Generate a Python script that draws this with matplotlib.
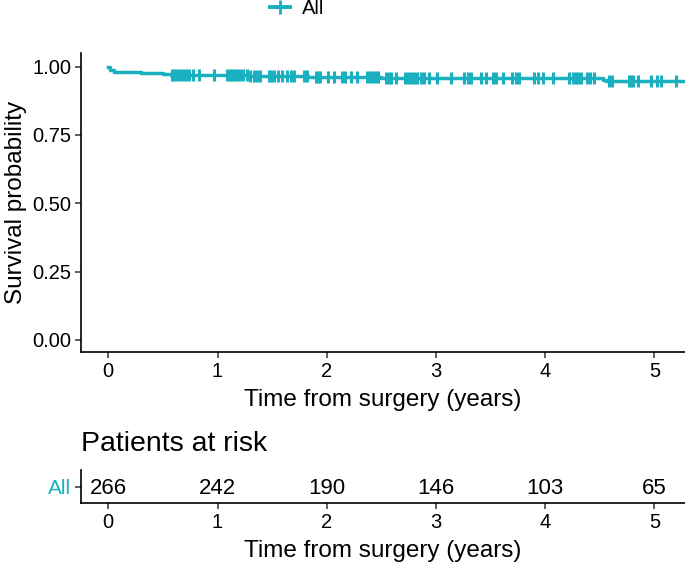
import matplotlib.pyplot as plt
from matplotlib.lines import Line2D
import numpy as np

plt.rcParams['font.family'] = ['Liberation Sans', 'DejaVu Sans']

teal = '#1AB0BF'

# Kaplan-Meier steps (time in years, survival after the step)
step_times = [0.0, 0.02, 0.05, 0.30, 0.50, 0.57, 1.30, 1.83, 2.50, 4.53, 4.56, 5.30]
step_surv = [1.0, 0.989, 0.982, 0.978, 0.974, 0.970, 0.966, 0.962, 0.958, 0.950, 0.946, 0.946]

# censoring times
censor_times = [0.58, 0.60, 0.63, 0.66, 0.68, 0.71, 0.74, 0.78, 0.83, 0.97,
                1.09, 1.11, 1.13, 1.15, 1.18, 1.21, 1.23, 1.27, 1.30, 1.33,
                1.36, 1.39, 1.47, 1.49, 1.52, 1.55, 1.59, 1.64, 1.67, 1.70,
                1.79, 1.82, 1.90, 1.92, 1.94, 2.01, 2.07, 2.14, 2.17, 2.22,
                2.28, 2.37, 2.40, 2.42, 2.45, 2.47, 2.54, 2.57, 2.59, 2.63,
                2.72, 2.74, 2.77, 2.80, 2.83, 2.86, 2.89, 2.94, 3.01, 3.14,
                3.26, 3.29, 3.32, 3.41, 3.46, 3.52, 3.55, 3.61, 3.70, 3.73,
                3.76, 3.90, 3.93, 3.98, 4.07, 4.22, 4.25, 4.28, 4.30, 4.33,
                4.38, 4.41, 4.45, 4.58, 4.61, 4.77, 4.79, 4.80, 4.85, 4.97,
                5.02, 5.06, 5.20]

risk_times = [0, 1, 2, 3, 4, 5]
risk_counts = [266, 242, 190, 146, 103, 65]


def surv_at(t):
    idx = np.searchsorted(step_times, t, side='right') - 1
    return np.array(step_surv)[idx]


fig = plt.figure(figsize=(6.85, 5.64), dpi=100)

# main survival plot
ax = fig.add_axes([81/685, 1-352/564, 604/685, 299/564])
ax.step(step_times, step_surv, where='post', color=teal, lw=2.5,
        solid_joinstyle='round')
ax.plot(censor_times, surv_at(np.array(censor_times)), ls='none', marker='|',
        ms=9, mew=2.2, color=teal)
ax.set_xlim(-0.25, 5.28)
ax.set_ylim(-0.044, 1.05)
ax.set_yticks([0, 0.25, 0.5, 0.75, 1.0])
ax.set_yticklabels(['0.00', '0.25', '0.50', '0.75', '1.00'])
ax.set_xticks(range(6))
ax.set_xlabel('Time from surgery (years)', fontsize=17.5, labelpad=6)
ax.set_ylabel('Survival probability', fontsize=17.5, labelpad=4)
for s in ['top', 'right']:
    ax.spines[s].set_visible(False)
for s in ['left', 'bottom']:
    ax.spines[s].set_linewidth(1.2)
ax.tick_params(labelsize=14.5, length=4, width=1.1, color='#333333',
               labelcolor='black', pad=3)

# legend on top
handle = Line2D([0], [0], color=teal, lw=2.8, marker='+', ms=10, mew=2)
fig.legend([handle], ['All'], loc='center', bbox_to_anchor=(297/685, 1-9/564),
           frameon=False, fontsize=14.5, handlelength=1.0, handletextpad=0.6)

# risk table
rt = fig.add_axes([81/685, 1-503/564, 604/685, 33/564])
for t, n in zip(risk_times, risk_counts):
    rt.text(t, 0.45, str(n), ha='center', va='center', fontsize=16)
rt.set_xlim(-0.25, 5.28)
rt.set_ylim(0, 1)
rt.set_yticks([0.5])
rt.set_yticklabels(['All'], color=teal, fontsize=15)
rt.set_xticks(range(6))
rt.set_xlabel('Time from surgery (years)', fontsize=17.5, labelpad=6)
for s in ['top', 'right']:
    rt.spines[s].set_visible(False)
for s in ['left', 'bottom']:
    rt.spines[s].set_linewidth(1.2)
rt.tick_params(length=4, width=1.1, color='#333333', pad=3)
rt.tick_params(axis='x', labelsize=14.5, labelcolor='black')
fig.text(81/685, 1-444/564, 'Patients at risk', fontsize=20.5, ha='left',
         va='center')

fig.savefig('out.png', dpi=100)
